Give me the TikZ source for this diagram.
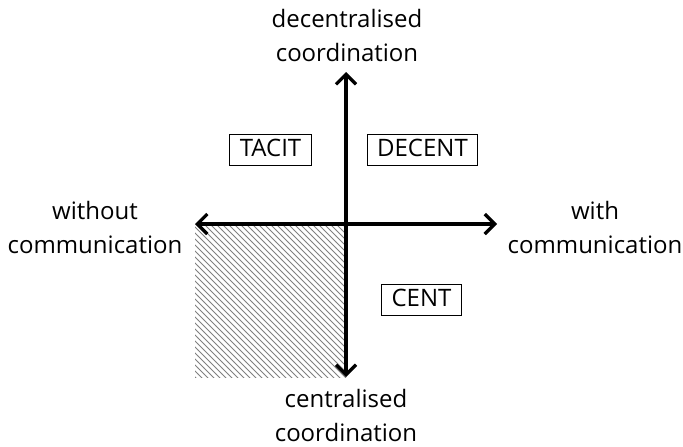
\documentclass[tikz,border=0pt]{standalone}
\usepackage{fontspec}
\setmainfont{Open Sans}
\usetikzlibrary{patterns}
\tikzset{
    every node/.style={font=\fontsize{12}{17}\selectfont, align=center}
}
\tikzset{
    quad/.style={draw, line width=0.5pt, inner xsep=5pt, inner ysep=0pt,
    	text height=9pt, text depth=2.5pt, minimum height=15.5pt}
}
\tikzset{
    axis/.style={line width=1.6pt, -{Straight Barb[length=5pt,width=10pt]}}
}
\usetikzlibrary{arrows.meta}

\begin{document}
\begin{tikzpicture}[x=0.5pt, y=-0.5pt]
  \useasboundingbox (0,0) rectangle (683,446);
  \coordinate (o) at (346,224);
  \coordinate (w) at (195,224);
  \coordinate (e) at (497,224);
  \coordinate (n) at (346,72);
  \coordinate (s) at (346,377);
  
  \fill[pattern=north west lines, pattern color=gray] (w) rectangle (s);
  
  \node (dec) at (347,35) {decentralised\\coordination};
  \node (cen) at (346,415) {centralised\\coordination};
  \node (wo) at (95,227) {without\\communication};
  \node (wi) at (595,227) {with\\communication};
  
  \node (tacit) [quad] at (270.5,150) {TACIT};
  \node (decent) [quad] at (422.5,150) {DECENT};
  \node (cent) [quad] at (421.5,300) {CENT};
  
  \draw[axis] (o) -- (w); \draw[axis] (o) -- (e);
  \draw[axis] (o) -- (n); \draw[axis] (o) -- (s);
\end{tikzpicture}
\end{document}
